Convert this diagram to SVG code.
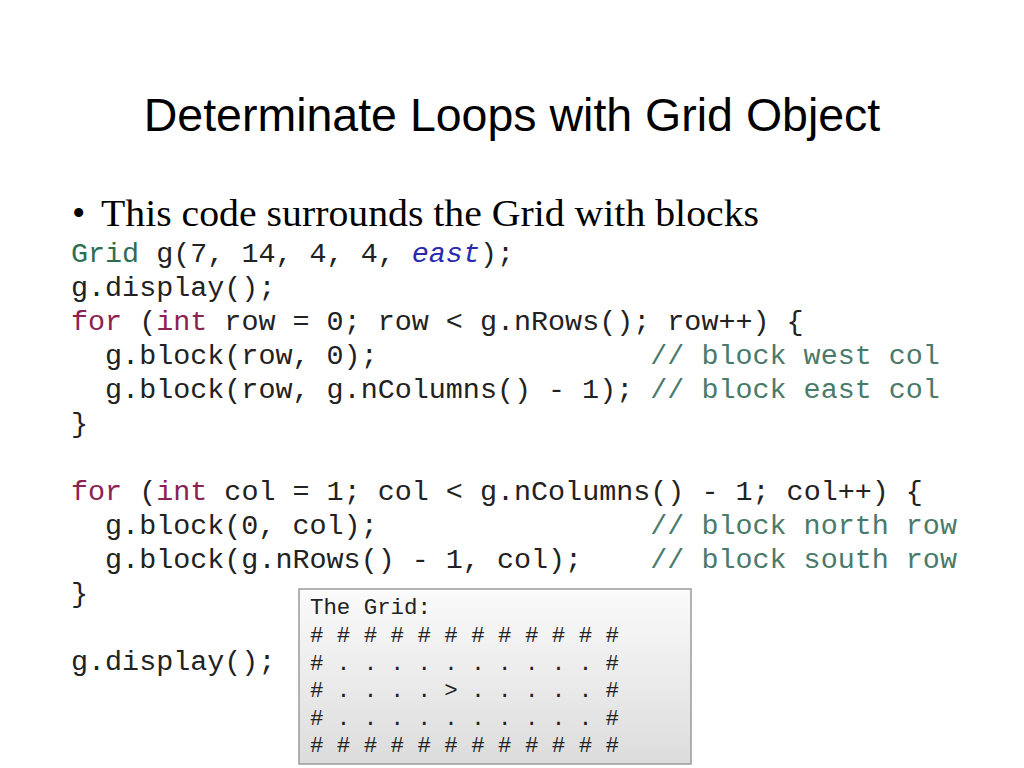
<svg xmlns="http://www.w3.org/2000/svg" width="1024" height="768" viewBox="0 0 1024 768">
<defs>
<linearGradient id="g" x1="0" y1="0" x2="0" y2="1"><stop offset="0" stop-color="#fbfbfb"/><stop offset="1" stop-color="#dcdcdc"/></linearGradient>
<style>
.c{font-family:"Liberation Mono","Courier New",monospace;font-size:28.4px;fill:#222;white-space:pre}
.k{fill:#8b2252}.t{fill:#2e6e50}.e{fill:#2a2ab0;font-style:italic}.m{fill:#4a7a6a}
.o{font-family:"Liberation Mono","Courier New",monospace;font-size:22.4px;fill:#222;white-space:pre}
</style>
</defs>
<rect width="1024" height="768" fill="#fff"/>
<text x="512" y="131" text-anchor="middle" font-family="Liberation Sans,sans-serif" font-size="46.5" fill="#000">Determinate Loops with Grid Object</text>
<text x="72" y="226" font-family="Liberation Serif,serif" font-size="38" fill="#000">•</text>
<text x="101" y="226" font-family="Liberation Serif,serif" font-size="38" fill="#000" textLength="658" lengthAdjust="spacingAndGlyphs">This code surrounds the Grid with blocks</text>
<g id="code">
<text class="c" x="71" y="262"><tspan class="t">Grid</tspan> g(7, 14, 4, 4, <tspan class="e">east</tspan>);</text>
<text class="c" x="71" y="296">g.display();</text>
<text class="c" x="71" y="330"><tspan class="k">for</tspan> (<tspan class="k">int</tspan> row = 0; row &lt; g.nRows(); row++) {</text>
<text class="c" x="71" y="364">  g.block(row, 0);                <tspan class="m">// block west col</tspan></text>
<text class="c" x="71" y="398">  g.block(row, g.nColumns() - 1); <tspan class="m">// block east col</tspan></text>
<text class="c" x="71" y="432">}</text>
<text class="c" x="71" y="500"><tspan class="k">for</tspan> (<tspan class="k">int</tspan> col = 1; col &lt; g.nColumns() - 1; col++) {</text>
<text class="c" x="71" y="534">  g.block(0, col);                <tspan class="m">// block north row</tspan></text>
<text class="c" x="71" y="568">  g.block(g.nRows() - 1, col);    <tspan class="m">// block south row</tspan></text>
<text class="c" x="71" y="602">}</text>
<text class="c" x="71" y="670">g.display();</text>
</g>
<g id="output">
<rect x="299" y="589" width="392" height="175" fill="url(#g)" stroke="#9a9a9a" stroke-width="1.5"/>
<text class="o" x="310" y="614">The Grid:</text>
<text class="o" x="310" y="642"># # # # # # # # # # # #</text>
<text class="o" x="310" y="670"># . . . . . . . . . . #</text>
<text class="o" x="310" y="697"># . . . . &gt; . . . . . #</text>
<text class="o" x="310" y="725"># . . . . . . . . . . #</text>
<text class="o" x="310" y="752"># # # # # # # # # # # #</text>
</g>
</svg>
